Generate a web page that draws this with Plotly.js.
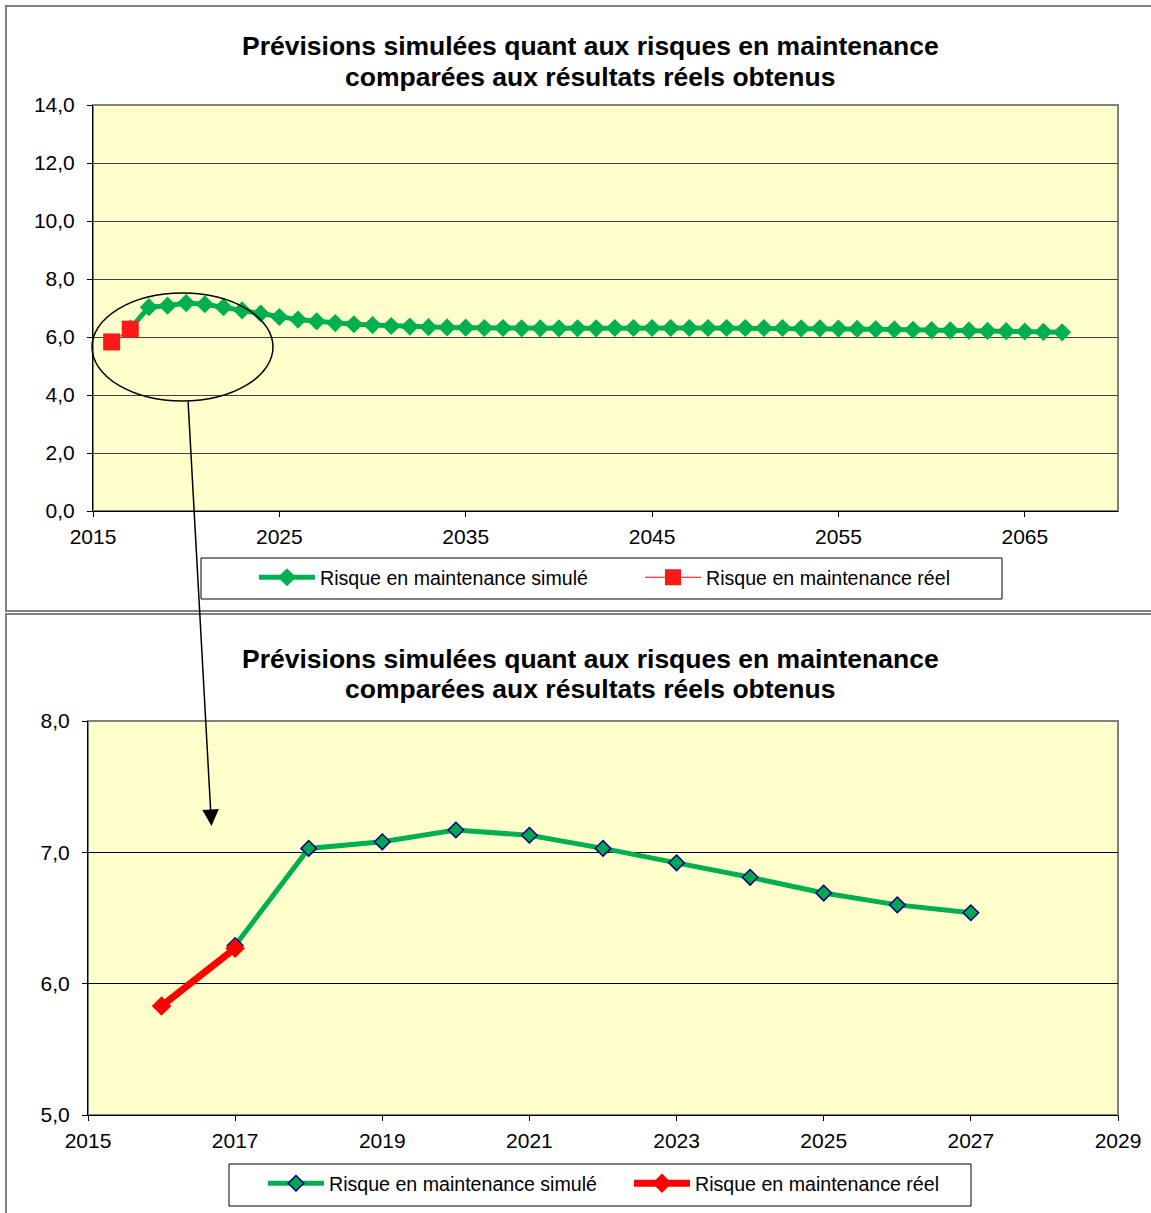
<!DOCTYPE html>
<html><head><meta charset="utf-8">
<script src="https://cdn.plot.ly/plotly-3.0.1.min.js"></script>
<style>html,body{margin:0;padding:0;background:#fff}#chart{width:1151px;height:1213px}</style>
</head><body><div id="chart"></div>
<script>
const W = 1151, H = 1213;
const titleLine1 = "<b>Prévisions simulées quant aux risques en maintenance</b>";
const titleLine2 = "<b>comparées aux résultats réels obtenus</b>";
const simName = "Risque en maintenance simulé";
const realName = "Risque en maintenance réel";

// Top chart: long-range simulation
const simYears = [2017,2018,2019,2020,2021,2022,2023,2024,2025,2026,2027,2028,2029,2030,2031,2032,2033,2034,2035,2036,2037,2038,2039,2040,2041,2042,2043,2044,2045,2046,2047,2048,2049,2050,2051,2052,2053,2054,2055,2056,2057,2058,2059,2060,2061,2062,2063,2064,2065,2066,2067];
const simValues = [6.29,7.03,7.08,7.17,7.13,7.03,6.92,6.81,6.69,6.60,6.54,6.48,6.44,6.41,6.38,6.36,6.34,6.33,6.32,6.31,6.31,6.30,6.30,6.30,6.30,6.30,6.31,6.31,6.31,6.31,6.31,6.31,6.31,6.31,6.31,6.31,6.30,6.30,6.29,6.28,6.27,6.26,6.25,6.24,6.23,6.22,6.21,6.20,6.19,6.18,6.16];
const realYears = [2016,2017];
const realValues = [5.83,6.27];

// Bottom chart: zoom on 2016-2027
const zoomSimYears = [2017,2018,2019,2020,2021,2022,2023,2024,2025,2026,2027];
const zoomSimValues = [6.29,7.03,7.08,7.17,7.13,7.03,6.92,6.81,6.69,6.60,6.54];
const zoomRealYears = [2016,2017];
const zoomRealValues = [5.83,6.27];

const topXTicks = [2015,2025,2035,2045,2055,2065];
const bottomXTicks = [2015,2017,2019,2021,2023,2025,2027,2029];

const px = x => x / W;
const py = y => 1 - y / H;

const GREEN = '#00B050';
const FONT = 'Liberation Sans, Arial, sans-serif';

const traces = [
  {x: simYears, y: simValues, name: simName, type: 'scatter', mode: 'lines+markers',
   xaxis: 'x', yaxis: 'y', legend: 'legend',
   line: {color: GREEN, width: 5}, marker: {symbol: 'diamond', size: 14, color: GREEN}},
  {x: realYears, y: realValues, name: realName, type: 'scatter', mode: 'lines+markers',
   xaxis: 'x', yaxis: 'y', legend: 'legend',
   line: {color: '#FF0000', width: 1}, marker: {symbol: 'square', size: 17, color: '#FF1A1A'}},
  {x: zoomSimYears, y: zoomSimValues, name: simName, type: 'scatter', mode: 'lines+markers',
   xaxis: 'x2', yaxis: 'y2', legend: 'legend2',
   line: {color: GREEN, width: 5}, marker: {symbol: 'diamond', size: 12, color: '#00A651', line: {color: '#000080', width: 1.5}}},
  {x: zoomRealYears, y: zoomRealValues, name: realName, type: 'scatter', mode: 'lines+markers',
   xaxis: 'x2', yaxis: 'y2', legend: 'legend2',
   line: {color: '#FF0000', width: 7}, marker: {symbol: 'diamond', size: 15, color: '#FF0000'}}
];

const axisCommon = {
  ticks: 'outside', ticklen: 5, tickcolor: '#000', tickwidth: 1,
  zeroline: false, showline: true, linecolor: '#000', linewidth: 1,
  fixedrange: true, tickfont: {family: FONT, size: 21, color: '#000'}
};

const legendCommon = {
  orientation: 'h', xanchor: 'left', yanchor: 'middle',
  bgcolor: 'rgba(0,0,0,0)', borderwidth: 0, entrywidthmode: 'pixels', itemwidth: 56,
  font: {family: FONT, size: 19.6, color: '#000'}, itemclick: false
};

const layout = {
  width: W, height: H,
  margin: {l: 0, r: 0, t: 0, b: 0},
  paper_bgcolor: '#FFFFFF', plot_bgcolor: '#FFFFCC',
  separators: ', ',
  font: {family: FONT, size: 20, color: '#000'},
  showlegend: true,
  xaxis: Object.assign({}, axisCommon, {domain: [px(93), px(1118)], range: [2015, 2070],
    tickmode: 'array', tickvals: topXTicks, showgrid: false, anchor: 'y', ticklabelstandoff: 2}),
  yaxis: Object.assign({}, axisCommon, {domain: [py(511), py(105)], range: [0, 14],
    tickmode: 'linear', tick0: 0, dtick: 2, tickformat: '.1f', showgrid: true,
    gridcolor: '#404040', gridwidth: 1, anchor: 'x', ticklabelstandoff: 8}),
  xaxis2: Object.assign({}, axisCommon, {domain: [px(88), px(1118)], range: [2015, 2029],
    tickmode: 'array', tickvals: bottomXTicks, showgrid: false, anchor: 'y2', ticklabelstandoff: 2}),
  yaxis2: Object.assign({}, axisCommon, {domain: [py(1115), py(721)], range: [5, 8],
    tickmode: 'linear', tick0: 5, dtick: 1, tickformat: '.1f', showgrid: true,
    gridcolor: '#000000', gridwidth: 1, anchor: 'x2', ticklabelstandoff: 8}),
  legend: Object.assign({}, legendCommon, {x: px(254), y: py(577.5), entrywidth: 315}),
  legend2: Object.assign({}, legendCommon, {x: px(263), y: py(1183.5), entrywidth: 295}),
  shapes: [
    // outer frames
    {type: 'rect', xref: 'paper', yref: 'paper', x0: px(6), x1: px(1156), y0: py(611), y1: py(6),
     line: {color: '#808080', width: 2}},
    {type: 'rect', xref: 'paper', yref: 'paper', x0: px(6), x1: px(1156), y0: py(1216), y1: py(614),
     line: {color: '#808080', width: 2}},
    // plot area borders
    {type: 'rect', xref: 'x domain', yref: 'y domain', x0: 0, x1: 1, y0: 0, y1: 1,
     line: {color: '#808080', width: 2}, layer: 'below'},
    {type: 'rect', xref: 'x2 domain', yref: 'y2 domain', x0: 0, x1: 1, y0: 0, y1: 1,
     line: {color: '#808080', width: 2}, layer: 'below'},
    // legend boxes
    {type: 'rect', xref: 'paper', yref: 'paper', x0: px(201), x1: px(1002), y0: py(599), y1: py(558),
     line: {color: '#000', width: 1}},
    {type: 'rect', xref: 'paper', yref: 'paper', x0: px(229), x1: px(971), y0: py(1206), y1: py(1164),
     line: {color: '#000', width: 1}},
    // zoom ellipse
    {type: 'circle', xref: 'paper', yref: 'paper', x0: px(92), x1: px(273), y0: py(401), y1: py(293),
     line: {color: '#000', width: 1.5}}
  ],
  annotations: [
    {xref: 'paper', yref: 'paper', x: px(590), y: py(46), xanchor: 'center', yanchor: 'middle',
     text: titleLine1, showarrow: false, font: {family: FONT, size: 26.5, color: '#000'}},
    {xref: 'paper', yref: 'paper', x: px(590), y: py(77), xanchor: 'center', yanchor: 'middle',
     text: titleLine2, showarrow: false, font: {family: FONT, size: 26.5, color: '#000'}},
    {xref: 'paper', yref: 'paper', x: px(590), y: py(659), xanchor: 'center', yanchor: 'middle',
     text: titleLine1, showarrow: false, font: {family: FONT, size: 26.5, color: '#000'}},
    {xref: 'paper', yref: 'paper', x: px(590), y: py(689), xanchor: 'center', yanchor: 'middle',
     text: titleLine2, showarrow: false, font: {family: FONT, size: 26.5, color: '#000'}},
    {xref: 'paper', yref: 'paper', x: px(211.5), y: py(826), axref: 'paper', ayref: 'paper',
     ax: px(188), ay: py(400), text: '', showarrow: true, arrowhead: 2, arrowsize: 2.2,
     arrowwidth: 1.5, arrowcolor: '#000'}
  ]
};

Plotly.newPlot('chart', traces, layout, {staticPlot: true, displayModeBar: false});
</script>
</body></html>
